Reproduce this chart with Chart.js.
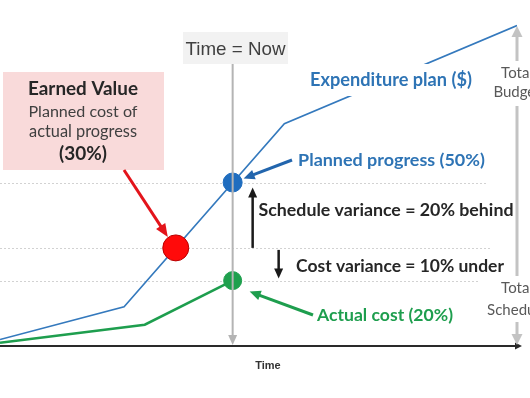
<!DOCTYPE html>
<html><head><meta charset="utf-8">
<script src="https://cdn.jsdelivr.net/npm/chart.js@4"></script>
<style>html,body{margin:0;padding:0;background:#fff;overflow:hidden}</style>
</head><body>
<canvas id="c" width="530" height="398"></canvas>
<script>
// ---- data ----
const planTime = [0, 24, 55, 100];
const planValue = [2, 12, 68, 98];
const costTime = [0, 28, 45];
const costValue = [1, 6.5, 20];
const markerNames = ['Planned progress (50%)', 'Earned Value (30%)', 'Actual cost (20%)'];
const markerTime = [45, 34, 45];
const markerValue = [50, 30, 20];
const timeNow = 45;
const referenceLevels = [50, 30, 20];
const earnedText = ['Earned Value', 'Planned cost of', 'actual progress', '(30%)'];

// ---- helpers ----
const SANS = 'Lato, "Open Sans", sans-serif';
const ARIAL = '"Liberation Sans", Arial, sans-serif';
function fitText(ctx, text, cx, base, width, weight, family, color) {
  ctx.font = weight + ' 100px ' + family;
  const w = ctx.measureText(text).width;
  const size = 100 * width / w;
  ctx.font = weight + ' ' + size.toFixed(2) + 'px ' + family;
  ctx.fillStyle = color; ctx.textAlign = 'center'; ctx.textBaseline = 'alphabetic';
  ctx.fillText(text, cx, base);
}
function plainText(ctx, text, cx, base, size, weight, family, color) {
  ctx.font = weight + ' ' + size + 'px ' + family;
  ctx.fillStyle = color; ctx.textAlign = 'center'; ctx.textBaseline = 'alphabetic';
  ctx.fillText(text, cx, base);
}
function arrow(ctx, x1, y1, x2, y2, color, lw, hl, hw) {
  const dx = x2 - x1, dy = y2 - y1, L = Math.hypot(dx, dy);
  const ux = dx / L, uy = dy / L;
  const bx = x2 - ux * hl, by = y2 - uy * hl;
  ctx.save();
  ctx.strokeStyle = color; ctx.fillStyle = color; ctx.lineWidth = lw; ctx.lineCap = 'butt';
  ctx.beginPath(); ctx.moveTo(x1, y1); ctx.lineTo(bx + ux * 1, by + uy * 1); ctx.stroke();
  ctx.beginPath();
  ctx.moveTo(x2, y2);
  ctx.lineTo(bx - uy * hw / 2, by + ux * hw / 2);
  ctx.lineTo(bx + uy * hw / 2, by - ux * hw / 2);
  ctx.closePath(); ctx.fill();
  ctx.restore();
}

const annot = {
  id: 'annot',
  beforeDatasetsDraw(chart) {
    const { ctx, scales: { x, y } } = chart;
    ctx.save();
    // dotted reference lines at marker levels
    ctx.strokeStyle = '#d2d2d2'; ctx.lineWidth = 1; ctx.setLineDash([2, 2]);
    const ends = [488, 492, 478];
    referenceLevels.forEach((v, i) => {
      const py = Math.round(y.getPixelForValue(v)) + 0.5;
      ctx.beginPath(); ctx.moveTo(0, py); ctx.lineTo(ends[i], py); ctx.stroke();
    });
    ctx.setLineDash([]);
    // time axis
    const by = y.getPixelForValue(0);
    arrow(ctx, 0, by, 522, by, '#2a2a2a', 2, 7, 7);
    plainText(ctx, 'Time', 268, 369, 11, 'bold', ARIAL, '#333');
    ctx.restore();
  },
  afterDatasetsDraw(chart) {
    const { ctx, scales: { x, y } } = chart;
    ctx.save();
    const px = i => x.getPixelForValue(markerTime[i]);
    const py = i => y.getPixelForValue(markerValue[i]);
    const base = y.getPixelForValue(0);

    // Expenditure plan label (white backing cuts the line)
    ctx.fillStyle = '#fff'; ctx.fillRect(300, 64, 180, 32);
    fitText(ctx, 'Expenditure plan ($)', 391, 86, 162, 'bold', SANS, '#2e74b5');

    // Time = Now line and box
    const tx = x.getPixelForValue(timeNow);
    arrow(ctx, tx, 64, tx, base - 1, '#b4b4b4', 2, 10, 9);
    ctx.fillStyle = '#f2f2f2'; ctx.fillRect(183, 32, 105, 32);
    fitText(ctx, 'Time = Now', 235.5, 55, 100, 'normal', ARIAL, '#404040');

    // Earned value box
    ctx.fillStyle = '#f9dada'; ctx.fillRect(3, 72, 161, 98);
    fitText(ctx, earnedText[0], 83, 95, 110, 'bold', SANS, '#262626');
    fitText(ctx, earnedText[1], 83, 117, 109, 'normal', SANS, '#404040');
    fitText(ctx, earnedText[2], 83, 137, 108, 'normal', SANS, '#404040');
    fitText(ctx, earnedText[3], 83, 160, 48, 'bold', SANS, '#262626');

    // red arrow to earned value point
    arrow(ctx, 124, 170, px(1) - 8, py(1) - 11, '#e3141b', 3, 13, 11);
    // blue arrow to planned progress
    arrow(ctx, 292, 160, px(0) + 11, py(0) - 4, '#2265ad', 3, 11, 10);
    fitText(ctx, markerNames[0], 391.5, 166, 187, 'bold', SANS, '#2e74b5');
    // schedule variance arrow
    arrow(ctx, px(0) + 20, py(1), px(0) + 20, py(0) + 5, '#1a1a1a', 2.5, 10, 9);
    fitText(ctx, 'Schedule variance = 20% behind', 386, 216, 255, 'bold', SANS, '#262626');
    // cost variance arrow
    arrow(ctx, px(2) + 46, py(1) + 2, px(2) + 46, py(2) - 2, '#1a1a1a', 2.5, 10, 9);
    fitText(ctx, 'Cost variance = 10% under', 400, 272, 208, 'bold', SANS, '#262626');
    // green arrow to actual cost
    arrow(ctx, 313, 315, px(2) + 17, py(2) + 11, '#1e9e4e', 3, 11, 10);
    fitText(ctx, markerNames[2], 385, 321, 136, 'bold', SANS, '#1e9e4e');

    // total budget / schedule double arrow
    const rx = 517;
    arrow(ctx, rx, 200, rx, 26, '#c3c3c3', 3, 11, 11);
    arrow(ctx, rx, 200, rx, base - 1, '#c3c3c3', 3, 11, 11);
    ctx.fillStyle = '#fff';
    ctx.fillRect(490, 61, 40, 45);
    ctx.fillRect(480, 276, 50, 46);
    plainText(ctx, 'Total', rx, 78, 15, 'normal', SANS, '#595959');
    plainText(ctx, 'Budget', rx, 97, 15, 'normal', SANS, '#595959');
    plainText(ctx, 'Total', rx, 293, 15, 'normal', SANS, '#595959');
    plainText(ctx, 'Schedule', rx, 315, 15, 'normal', SANS, '#595959');
    ctx.restore();
  }
};

new Chart(document.getElementById('c'), {
  type: 'line',
  data: {
    datasets: [
      { label: markerNames[0], data: [{ x: markerTime[0], y: markerValue[0] }], showLine: false,
        pointRadius: 9.5, pointBackgroundColor: '#1f6dbf', pointBorderColor: '#1f6dbf', order: 0 },
      { label: markerNames[1], data: [{ x: markerTime[1], y: markerValue[1] }], showLine: false,
        pointRadius: 13, pointBackgroundColor: '#ff0a0a', pointBorderColor: '#b80000', pointBorderWidth: 1, order: 0 },
      { label: markerNames[2], data: [{ x: markerTime[2], y: markerValue[2] }], showLine: false,
        pointRadius: 9, pointBackgroundColor: '#1fa04e', pointBorderColor: '#1fa04e', order: 0 },
      { label: 'Expenditure plan ($)', data: planTime.map((t, i) => ({ x: t, y: planValue[i] })),
        borderColor: '#3479bd', borderWidth: 1.6, pointRadius: 0, tension: 0, order: 2 },
      { label: 'Actual cost', data: costTime.map((t, i) => ({ x: t, y: costValue[i] })),
        borderColor: '#1e9e4e', borderWidth: 2.6, pointRadius: 0, tension: 0, order: 1 }
    ]
  },
  options: {
    responsive: false, animation: false, events: [],
    layout: { autoPadding: false, padding: { left: 0, right: 13, top: 19, bottom: 52 } },
    scales: {
      x: { type: 'linear', min: 0, max: 100, display: false },
      y: { type: 'linear', min: 0, max: 100, display: false }
    },
    plugins: { legend: { display: false }, tooltip: { enabled: false } }
  },
  plugins: [annot]
});
</script>
</body></html>
